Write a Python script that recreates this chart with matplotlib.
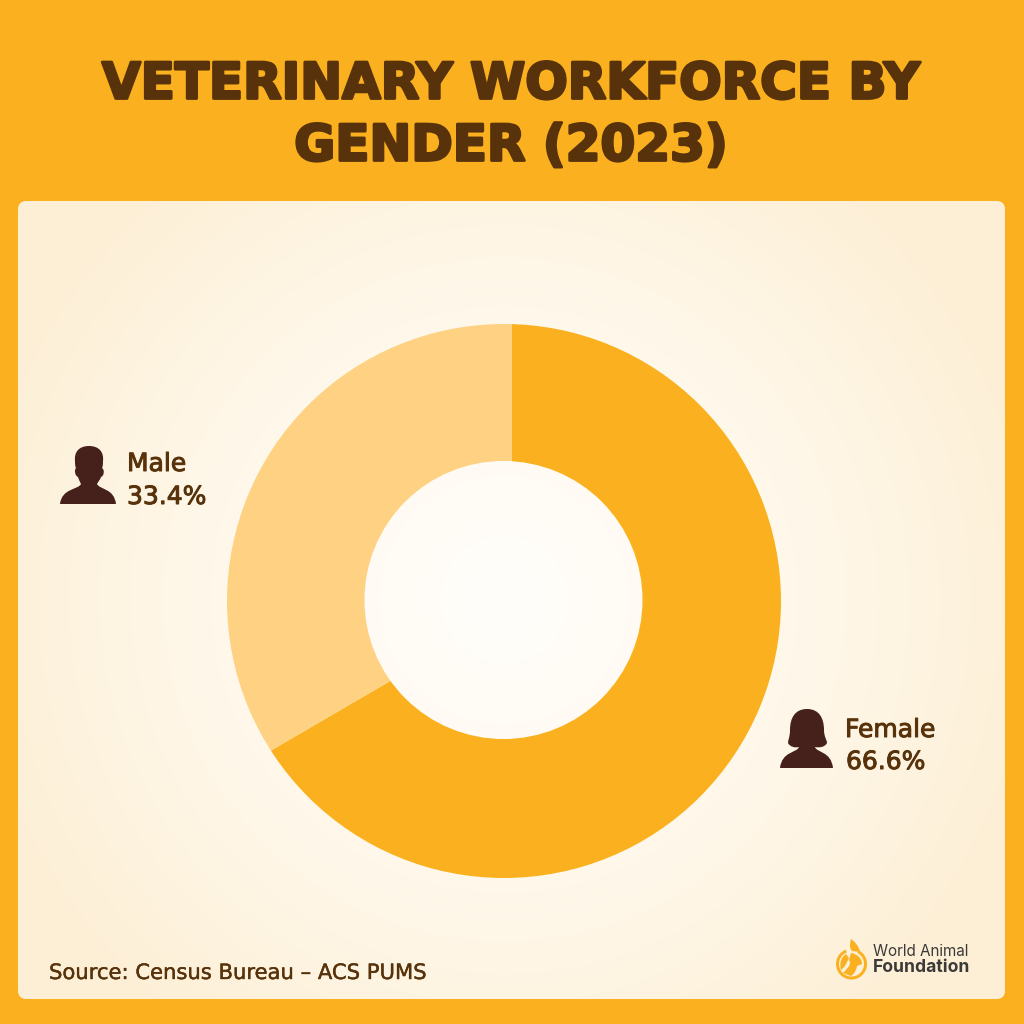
import numpy as np
import matplotlib
matplotlib.use('Agg')
import matplotlib.pyplot as plt
import matplotlib.patheffects as pe
from matplotlib.colors import LinearSegmentedColormap
from matplotlib.patches import FancyBboxPatch, PathPatch, Wedge
from matplotlib.path import Path

# Chart values
genders = ['Female', 'Male']
shares = [66.6, 33.4]
slice_colors = ['#FBB11F', '#FFD283']

title_lines = ['VETERINARY WORKFORCE BY', 'GENDER (2023)']
source_text = 'Source: Census Bureau \u2013 ACS PUMS'

GOLD = '#FBB11F'
BROWN = '#57320A'
ICON = '#46201A'
H = 1024


def silhouette(segments, color, ax):
    """Fill a closed shape given as (code, points) in top-down pixel coordinates."""
    verts, codes = [], []
    for code, pts in segments:
        for x, y in pts:
            verts.append((x, H - y))
            codes.append(code)
    verts.append(verts[0])
    codes.append(Path.CLOSEPOLY)
    ax.add_patch(PathPatch(Path(verts, codes), fc=color, ec='none', zorder=5))


M, L, C = Path.MOVETO, Path.LINETO, Path.CURVE4

fig = plt.figure(figsize=(10.24, 10.24), dpi=100, facecolor=GOLD)
ax = fig.add_axes([0, 0, 1, 1])
ax.axis('off')

# Panel with a soft radial glow
panel = FancyBboxPatch((18, H - 999), 987, 798, boxstyle='round,pad=0,rounding_size=9',
                       fc='#FDF0D8', ec='none', zorder=1)
ax.add_patch(panel)
xx, yy = np.meshgrid(np.arange(18, 1006), np.arange(H - 999, H - 200))
dist = np.hypot(xx - 504, yy - (H - 600)) / 560
glow = LinearSegmentedColormap.from_list('glow', ['#FFFEFB', '#FFFBF2', '#FEF5E4', '#FDEFD5'])
im = ax.imshow(np.clip(dist, 0, 1), cmap=glow, vmin=0, vmax=1, origin='lower',
               extent=(18, 1006, H - 999, H - 200), zorder=2, interpolation='bilinear')
im.set_clip_path(panel)

# Donut: the slices are clipped to the ring so their seams meet off the ring's centre
outer = Path.circle((504, H - 601), 277)
inner = Path.circle((503.5, H - 600), 139)
hole = inner.vertices[:-1][::-1]
ring = Path(np.concatenate([outer.vertices, hole, hole[:1]]),
            np.concatenate([outer.codes, inner.codes]))
wedges, _ = ax.pie(shares, colors=slice_colors, startangle=90, counterclock=False,
                   center=(512, H - 610), radius=340, frame=False,
                   wedgeprops={'linewidth': 0})
for w in wedges:
    w.set_zorder(3)
    w.set_clip_on(True)
    w.set_clip_path(ring, transform=ax.transData)

ax.set_aspect('auto')
ax.set_xlim(0, 1024)
ax.set_ylim(0, 1024)
ax.axis('off')

# Title
for line, y in zip(title_lines, [98.5, 160.5]):
    ax.text(511, H - y, line, ha='center', va='baseline', color=BROWN, fontsize=36,
            family='DejaVu Sans', weight='bold', zorder=6,
            path_effects=[pe.withStroke(linewidth=2, foreground=BROWN)])

# Male icon
silhouette([
    (M, [(89, 446)]),
    (C, [(79, 446), (74, 452), (75, 461)]),
    (C, [(75, 464), (75, 466), (76, 468)]),
    (C, [(74, 470), (75, 476), (78, 477)]),
    (C, [(79, 480), (80, 482), (81, 484)]),
    (C, [(78, 490), (62, 488), (60, 504)]),
    (L, [(116, 504)]),
    (C, [(114, 488), (100, 490), (97, 484)]),
    (C, [(98, 482), (100, 480), (101, 477)]),
    (C, [(104, 476), (105, 470), (102, 468)]),
    (C, [(103, 466), (103, 464), (103, 461)]),
    (C, [(104, 452), (99, 446), (89, 446)]),
], ICON, ax)

# Female icon
silhouette([
    (M, [(807, 709)]),
    (C, [(795, 709), (790, 718), (790, 730)]),
    (C, [(790, 737), (788, 740), (788, 743)]),
    (C, [(790, 747), (795, 748), (799, 747)]),
    (C, [(797, 753), (782, 751), (780, 768)]),
    (L, [(833, 768)]),
    (C, [(831, 751), (817, 753), (815, 747)]),
    (C, [(820, 748), (825, 747), (827, 743)]),
    (C, [(827, 740), (824, 737), (824, 730)]),
    (C, [(824, 718), (819, 709), (807, 709)]),
], ICON, ax)

# Slice labels
label_font = dict(family='DejaVu Sans', color=BROWN, fontsize=18, va='baseline', zorder=6,
                  path_effects=[pe.withStroke(linewidth=0.7, foreground=BROWN)])
ax.text(127, H - 471, genders[1], ha='left', **label_font)
ax.text(127, H - 504, f'{shares[1]}%', ha='left', **label_font)
ax.text(845, H - 737, genders[0], ha='left', **label_font)
ax.text(846, H - 769, f'{shares[0]}%', ha='left', **label_font)

# Source
ax.text(49, H - 979, source_text, ha='left', va='baseline', family='DejaVu Sans',
        color=BROWN, fontsize=15.2, zorder=6,
        path_effects=[pe.withStroke(linewidth=0.3, foreground=BROWN)])

# Logo
ax.add_patch(Wedge((851.5, H - 964), 15.5, 112, 62, width=3, fc=GOLD, ec='none', zorder=6))
silhouette([
    (M, [(851, 939)]),
    (C, [(855, 942), (859, 946), (860, 952)]),
    (L, [(852, 951)]),
    (C, [(849, 948), (850, 943), (851, 939)]),
], GOLD, ax)
silhouette([
    (M, [(851, 953)]),
    (C, [(857, 954), (862, 958), (862, 964)]),
    (L, [(857, 966)]),
    (C, [(856, 971), (854, 974), (851, 976)]),
    (L, [(843, 973)]),
    (C, [(848, 968), (852, 964), (849, 960)]),
    (L, [(851, 953)]),
], GOLD, ax)
silhouette([
    (M, [(846, 954)]),
    (L, [(849, 958)]),
    (L, [(845, 966)]),
    (L, [(841, 970)]),
    (C, [(839, 964), (841, 957), (846, 954)]),
], GOLD, ax)
ax.text(873, H - 952, 'World Animal', ha='left', va='center', family='Inter', color='#3C3A38',
        fontsize=11, zorder=6)
ax.text(873, H - 968, 'Foundation', ha='left', va='center', family='Inter', weight='bold',
        color='#3C3A38', fontsize=12.6, zorder=6)

fig.savefig('out.png', dpi=100, facecolor=GOLD)
